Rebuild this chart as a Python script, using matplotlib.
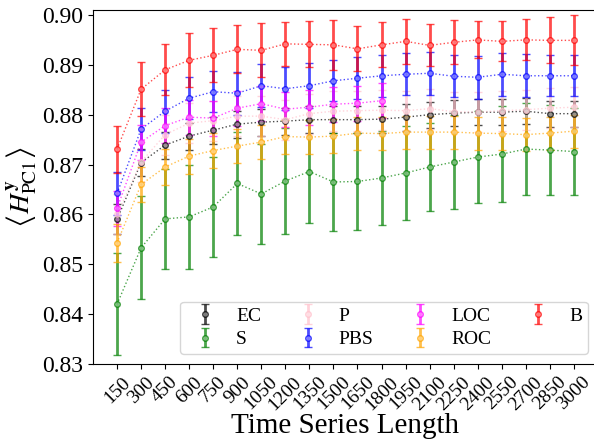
import numpy as np
import matplotlib
matplotlib.use("Agg")
import matplotlib.pyplot as plt
from matplotlib.colors import to_rgb

plt.rcParams['font.family'] = ['Liberation Serif', 'DejaVu Serif']
plt.rcParams['mathtext.fontset'] = 'stix'

# time series lengths
lengths = [150, 300, 450, 600, 750, 900, 1050, 1200, 1350, 1500,
           1650, 1800, 1950, 2100, 2250, 2400, 2550, 2700, 2850, 3000]

# mean values per method
ec = [0.8590, 0.8704, 0.8739, 0.8757, 0.8769, 0.8781, 0.8785, 0.8787, 0.8790, 0.8790,
      0.8790, 0.8791, 0.8795, 0.8800, 0.8803, 0.8805, 0.8805, 0.8807, 0.8802, 0.8802]
s = [0.8420, 0.8533, 0.8591, 0.8595, 0.8615, 0.8662, 0.8641, 0.8667, 0.8686, 0.8665,
     0.8666, 0.8673, 0.8683, 0.8695, 0.8705, 0.8715, 0.8721, 0.8731, 0.8729, 0.8726]
p = [0.8600, 0.8705, 0.8760, 0.8783, 0.8788, 0.8797, 0.8797, 0.8790, 0.8802, 0.8807,
     0.8808, 0.8809, 0.8808, 0.8812, 0.8806, 0.8805, 0.8808, 0.8810, 0.8813, 0.8815]
pbs = [0.8642, 0.8771, 0.8807, 0.8833, 0.8846, 0.8843, 0.8858, 0.8852, 0.8858, 0.8868,
       0.8873, 0.8878, 0.8881, 0.8883, 0.8877, 0.8875, 0.8881, 0.8878, 0.8878, 0.8878]
loc = [0.8612, 0.8745, 0.8778, 0.8795, 0.8793, 0.8813, 0.8822, 0.8811, 0.8815, 0.8821,
       0.8823, 0.8828]
roc = [0.8543, 0.8660, 0.8695, 0.8717, 0.8728, 0.8737, 0.8745, 0.8756, 0.8755, 0.8757,
       0.8763, 0.8762, 0.8765, 0.8765, 0.8765, 0.8763, 0.8762, 0.8760, 0.8763, 0.8767]
b = [0.8731, 0.8851, 0.8890, 0.8909, 0.8919, 0.8931, 0.8929, 0.8942, 0.8941, 0.8940,
     0.8932, 0.8940, 0.8947, 0.8939, 0.8945, 0.8950, 0.8947, 0.8950, 0.8949, 0.8949]

# error bar half-widths
ec_err = [0.0030, 0.0028, 0.0027, 0.0027, 0.0027, 0.0027, 0.0027, 0.0027, 0.0027, 0.0027,
          0.0027, 0.0027, 0.0027, 0.0026, 0.0026, 0.0026, 0.0026, 0.0026, 0.0026, 0.0026]
s_err = [0.0102, 0.0103, 0.0101, 0.0105, 0.0100, 0.0103, 0.0101, 0.0106, 0.0103, 0.0098,
         0.0097, 0.0095, 0.0094, 0.0088, 0.0094, 0.0093, 0.0096, 0.0092, 0.0090, 0.0087]
p_err = [0.0040, 0.0040, 0.0040, 0.0040, 0.0040, 0.0040, 0.0040, 0.0040, 0.0040, 0.0040,
         0.0040, 0.0040, 0.0040, 0.0040, 0.0040, 0.0040, 0.0040, 0.0040, 0.0040, 0.0040]
pbs_err = [0.0043, 0.0042, 0.0043, 0.0042, 0.0041, 0.0043, 0.0043, 0.0043, 0.0045, 0.0041,
           0.0042, 0.0042, 0.0042, 0.0043, 0.0042, 0.0043, 0.0043, 0.0043, 0.0041, 0.0041]
loc_err = [0.0035, 0.0035, 0.0035, 0.0035, 0.0035, 0.0035, 0.0035, 0.0035, 0.0035, 0.0035,
           0.0035, 0.0035]
roc_err = [0.0038, 0.0036, 0.0036, 0.0035, 0.0035, 0.0034, 0.0034, 0.0034, 0.0034, 0.0034,
           0.0033, 0.0033, 0.0033, 0.0033, 0.0033, 0.0033, 0.0033, 0.0033, 0.0033, 0.0033]
b_err = [0.0047, 0.0054, 0.0051, 0.0054, 0.0054, 0.0048, 0.0054, 0.0044, 0.0046, 0.0050,
         0.0045, 0.0045, 0.0045, 0.0042, 0.0044, 0.0037, 0.0040, 0.0041, 0.0046, 0.0050]

series = [
    ("EC", ec, ec_err, "black"),
    ("S", s, s_err, "green"),
    ("P", p, p_err, "pink"),
    ("PBS", pbs, pbs_err, "blue"),
    ("LOC", loc, loc_err, "magenta"),
    ("ROC", roc, roc_err, "orange"),
    ("B", b, b_err, "red"),
]

fig = plt.figure(figsize=(5.94, 4.42), dpi=100)
ax = fig.add_axes([0.1566, 0.1765, 0.85, 0.8010])

for name, vals, errs, col in series:
    x = lengths[:len(vals)]
    # lighter fill so the markers look like rings
    light = tuple(0.45 * c + 0.55 for c in to_rgb(col))
    ax.plot(x, vals, ':', color=col, linewidth=1, alpha=0.7)
    ax.errorbar(x, vals, yerr=errs, fmt='o', color=col, label=name,
                markersize=4, mfc=light, mec=col, mew=1,
                elinewidth=2, capsize=3, alpha=0.7)

ax.set_xlim(0, 3150)
ax.set_ylim(0.83, 0.901)
ax.set_xticks(lengths)
ax.set_xticklabels([str(v) for v in lengths], rotation=45, fontsize=14)
ax.set_yticks([0.83, 0.84, 0.85, 0.86, 0.87, 0.88, 0.89, 0.90])
ax.set_yticklabels(["0.83", "0.84", "0.85", "0.86", "0.87", "0.88", "0.89", "0.90"], fontsize=17)

ax.set_xlabel("Time Series Length", fontsize=21, labelpad=0)
ax.set_ylabel(r"$\left\langle H^{\mathbf{y}}_{\mathrm{PC1}} \right\rangle$", fontsize=20, labelpad=2)

ax.legend(ncol=4, loc='lower right', fontsize=14, handlelength=2, handletextpad=0.6,
          columnspacing=1.4, labelspacing=0.3, borderpad=0.3)

fig.savefig("out.png", dpi=100)
